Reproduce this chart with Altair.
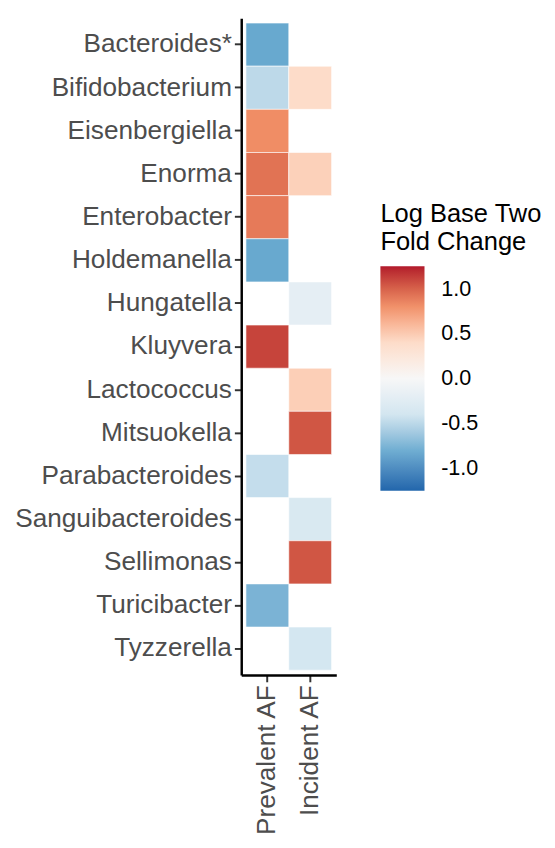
import altair as alt
import pandas as pd

genera = ["Bacteroides*", "Bifidobacterium", "Eisenbergiella", "Enorma", "Enterobacter",
          "Holdemanella", "Hungatella", "Kluyvera", "Lactococcus", "Mitsuokella",
          "Parabacteroides", "Sanguibacteroides", "Sellimonas", "Turicibacter", "Tyzzerella"]
groups = ["Prevalent AF", "Incident AF"]
prevalent = [-0.83, -0.50, 0.82, 0.93, 0.90, -0.83, None, 1.12, None, None,
             -0.47, None, None, -0.76, None]
incident = [None, 0.40, None, 0.47, None, None, -0.20, None, 0.48, 1.05,
            None, -0.33, 1.05, None, -0.38]

rows = []
for g, p, i in zip(genera, prevalent, incident):
    if p is not None:
        rows.append({"genus": g, "group": groups[0], "lfc": p})
    if i is not None:
        rows.append({"genus": g, "group": groups[1], "lfc": i})
df = pd.DataFrame(rows)

dom = [-1.25, -0.8333, -0.4167, 0.0, 0.4167, 0.8333, 1.25]
cols = ["#2166AC", "#67A9CF", "#D1E5F0", "#F7F7F7", "#FDDBC7", "#EF8A62", "#B2182B"]

chart = alt.Chart(df).mark_rect(stroke="white", strokeWidth=1, strokeOpacity=0.6).encode(
    x=alt.X("group:N", sort=groups, title=None,
            scale=alt.Scale(paddingInner=0, paddingOuter=0.11),
            axis=alt.Axis(labelAngle=270, labelAlign="right", labelBaseline="middle",
                          labelFontSize=26.7, labelColor="#4D4D4D", labelPadding=3,
                          labelLimit=400,
                          tickSize=7, tickWidth=2, tickColor="#333333",
                          domainColor="black", domainWidth=2.5, grid=False)),
    y=alt.Y("genus:N", sort=genera, title=None,
            scale=alt.Scale(paddingInner=0, paddingOuter=0.11),
            axis=alt.Axis(labelFontSize=26.7, labelColor="#4D4D4D", labelPadding=3,
                          labelLimit=400,
                          tickSize=7, tickWidth=2, tickColor="#333333",
                          domainColor="black", domainWidth=2.5, grid=False)),
    color=alt.Color("lfc:Q",
                    scale=alt.Scale(domain=dom, range=cols, interpolate="lab"),
                    legend=alt.Legend(title=["Log Base Two", "Fold Change"],
                                      orient="none", legendX=142, legendY=187,
                                      titleFontSize=26, titleFontWeight="normal",
                                      titleColor="black", titleLineHeight=28,
                                      titlePadding=12,
                                      gradientLength=229, gradientThickness=45,
                                      gradientStrokeWidth=0,
                                      values=[-1, -0.5, 0, 0.5, 1],
                                      labelExpr="datum.value < 0 ? '-' + format(-datum.value, '.1f') : format(datum.value, '.1f')",
                                      labelFontSize=22, labelColor="black",
                                      labelOffset=17)),
).properties(
    width=97, height=670,
    padding={"left": 6, "top": 2, "right": 5, "bottom": 0}
).configure(
    font="Liberation Sans"
).configure_view(stroke=None)

chart.save("out.html", embed_options={"renderer": "svg", "actions": False})
